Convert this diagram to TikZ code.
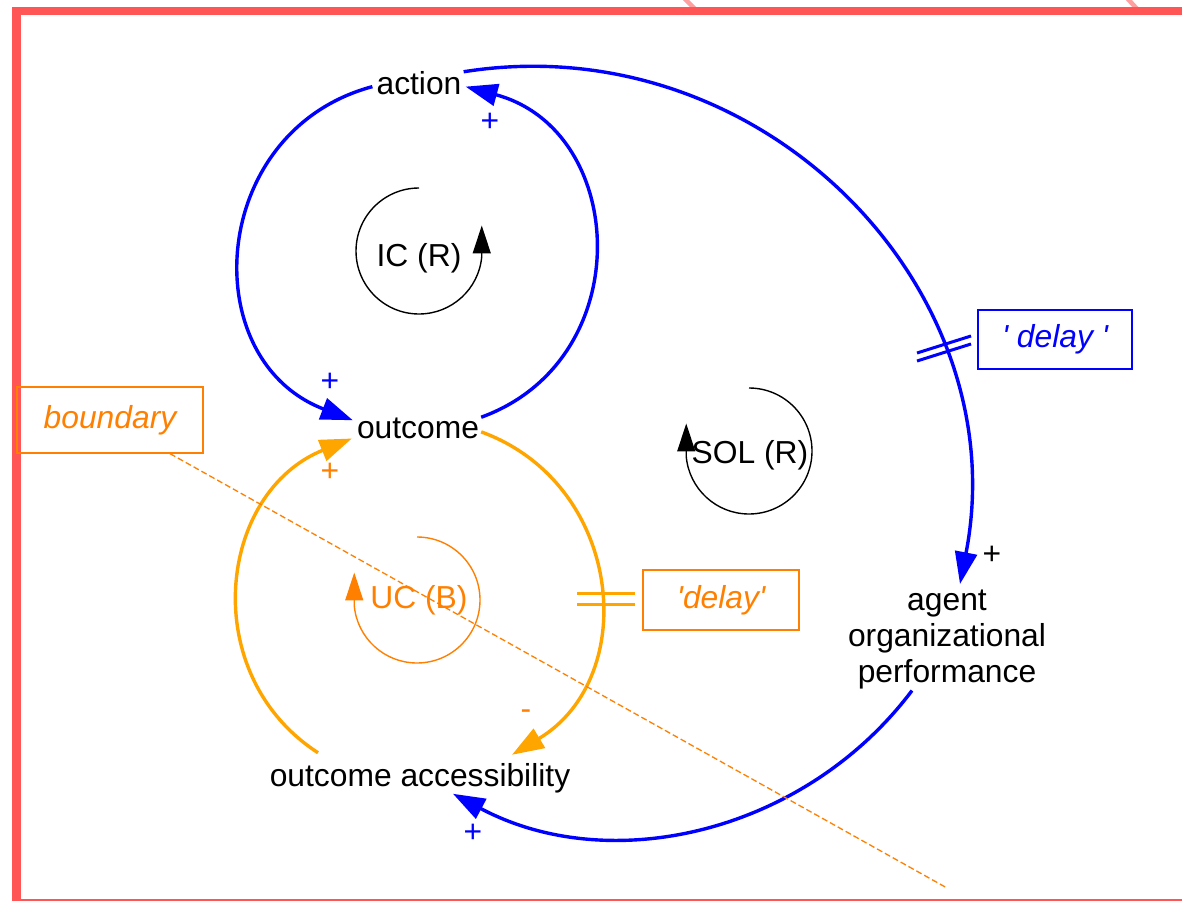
\documentclass[tikz,border=0pt]{standalone}
\usepackage{fontspec}
\setmainfont{Liberation Sans}
\usetikzlibrary{arrows.meta}
\definecolor{linkblue}{HTML}{0000FF}
\definecolor{linkorange}{HTML}{FFA500}
\definecolor{markorange}{HTML}{FF8000}
\definecolor{framered}{HTML}{FF5555}
\definecolor{framepink}{HTML}{FFA0A0}
\newcommand{\cldsize}{\fontsize{31.8}{36}\selectfont}
\begin{document}
\begin{tikzpicture}[x=1pt,y=1pt,
  every node/.style={font=\cldsize},
  var/.style={inner sep=0pt, text=black},
  sign/.style={inner sep=0pt},
  link/.style={line width=3.4pt, -{Triangle[length=32pt,width=22pt]}},
  loopmark/.style={line width=1.4pt, -{Triangle[length=28pt,width=18pt]}},
  notebox/.style={draw, line width=1.3pt, inner sep=0pt, font=\cldsize\itshape},
  delaymark/.style={line width=3pt},
]
\useasboundingbox (0,0) rectangle (1182,-901);

% frame of the diagram
\draw[framepink, line width=4.5pt] (684,2) -- (696,-10);
\draw[framepink, line width=4.5pt] (1127,2) -- (1138,-10);
\draw[framered, line width=8pt] (12,-11) -- (1190,-11);
\draw[framered, line width=9pt] (16.5,-7) -- (16.5,-910);
\draw[framered, line width=8pt] (12,-903) -- (1190,-903);

% variables
\node[var, anchor=base] (action) at (419,-95) {action};
\node[var, anchor=base] (outcome) at (418,-438) {outcome};
\node[var, anchor=base] (oa) at (420,-786) {outcome accessibility};
\node[var, anchor=north, align=center] (agent) at (947,-590)
  {agent\\organizational\\performance};

% loop markers
\draw[loopmark] (419,-188) arc[start angle=90, end angle=355, radius=63] -- ++(0,31);
\node[var] (ic) at (419,-258) {IC (R)};
\draw[loopmark] (749,-388) arc[start angle=90, end angle=-175, radius=63] -- ++(0,33);
\node[var] (sol) at (750,-455) {SOL (R)};
\draw[loopmark, markorange] (417,-537) arc[start angle=90, end angle=-175, radius=63] -- ++(0,33);
\node[var, text=markorange] (uc) at (419,-600) {UC (B)};

% causal links
\draw[link, linkblue] ([xshift=2pt]outcome.north east)
  to[out=20, in=-15, looseness=1.3] ([xshift=4pt,yshift=-3pt]action.east);
\draw[link, linkblue] ([xshift=-4pt,yshift=-3pt]action.west)
  to[out=195, in=159, looseness=1.3] ([xshift=-4pt,yshift=-3pt]outcome.north west);
\draw[link, linkorange] ([xshift=2pt,yshift=-4pt]outcome.east)
  to[out=-20, in=31, looseness=1.19] ([xshift=92pt,yshift=8pt]oa.north);
\draw[link, linkorange] ([xshift=-102pt,yshift=10pt]oa.north)
  to[out=147, in=202, looseness=1.17] ([xshift=-5pt]outcome.south west);
\draw[link, linkblue] ([xshift=2pt]action.north east)
  to[out=9, in=79, looseness=1.08] ([xshift=13pt,yshift=6pt]agent.north);
\draw[link, linkblue] ([xshift=-35pt,yshift=-1pt]agent.south)
  to[out=-127, in=-28, looseness=0.97] ([xshift=33pt,yshift=-1pt]oa.south);

% delay marks
\draw[delaymark, linkorange] (577,-593) -- (635,-593);
\draw[delaymark, linkorange] (577,-604) -- (635,-604);
\draw[delaymark, linkblue] (917,-353) -- (971,-336);
\draw[delaymark, linkblue] (917,-361) -- (971,-344);

% annotation boxes
\node[notebox, draw=markorange, text=markorange, minimum width=186pt, minimum height=66pt]
  (boundary) at (110,-420) {boundary};
\node[notebox, draw=linkblue, text=linkblue, minimum width=154pt, minimum height=59pt]
  (delayA) at (1055,-339.5) {\textquotesingle\ delay \textquotesingle};
\node[notebox, draw=markorange, text=markorange, minimum width=156pt, minimum height=60pt]
  (delayB) at (721,-600) {\textquotesingle delay\textquotesingle};

% boundary line
\coordinate (bEnd) at (947,-888);
\draw[markorange, line width=1.3pt, dash pattern=on 6pt off 3pt]
  ([xshift=60pt]boundary.south) -- (bEnd);

% link polarities
\node[sign, text=linkblue] (p1) at (490,-122) {+};
\node[sign, text=linkblue] (p2) at (330,-382) {+};
\node[sign, text=markorange] (p3) at (330,-472) {+};
\node[sign, text=markorange] (p4) at (526,-715) {-};
\node[sign, text=black] (p5) at (992,-555) {+};
\node[sign, text=linkblue] (p6) at (473,-833) {+};
\end{tikzpicture}
\end{document}
